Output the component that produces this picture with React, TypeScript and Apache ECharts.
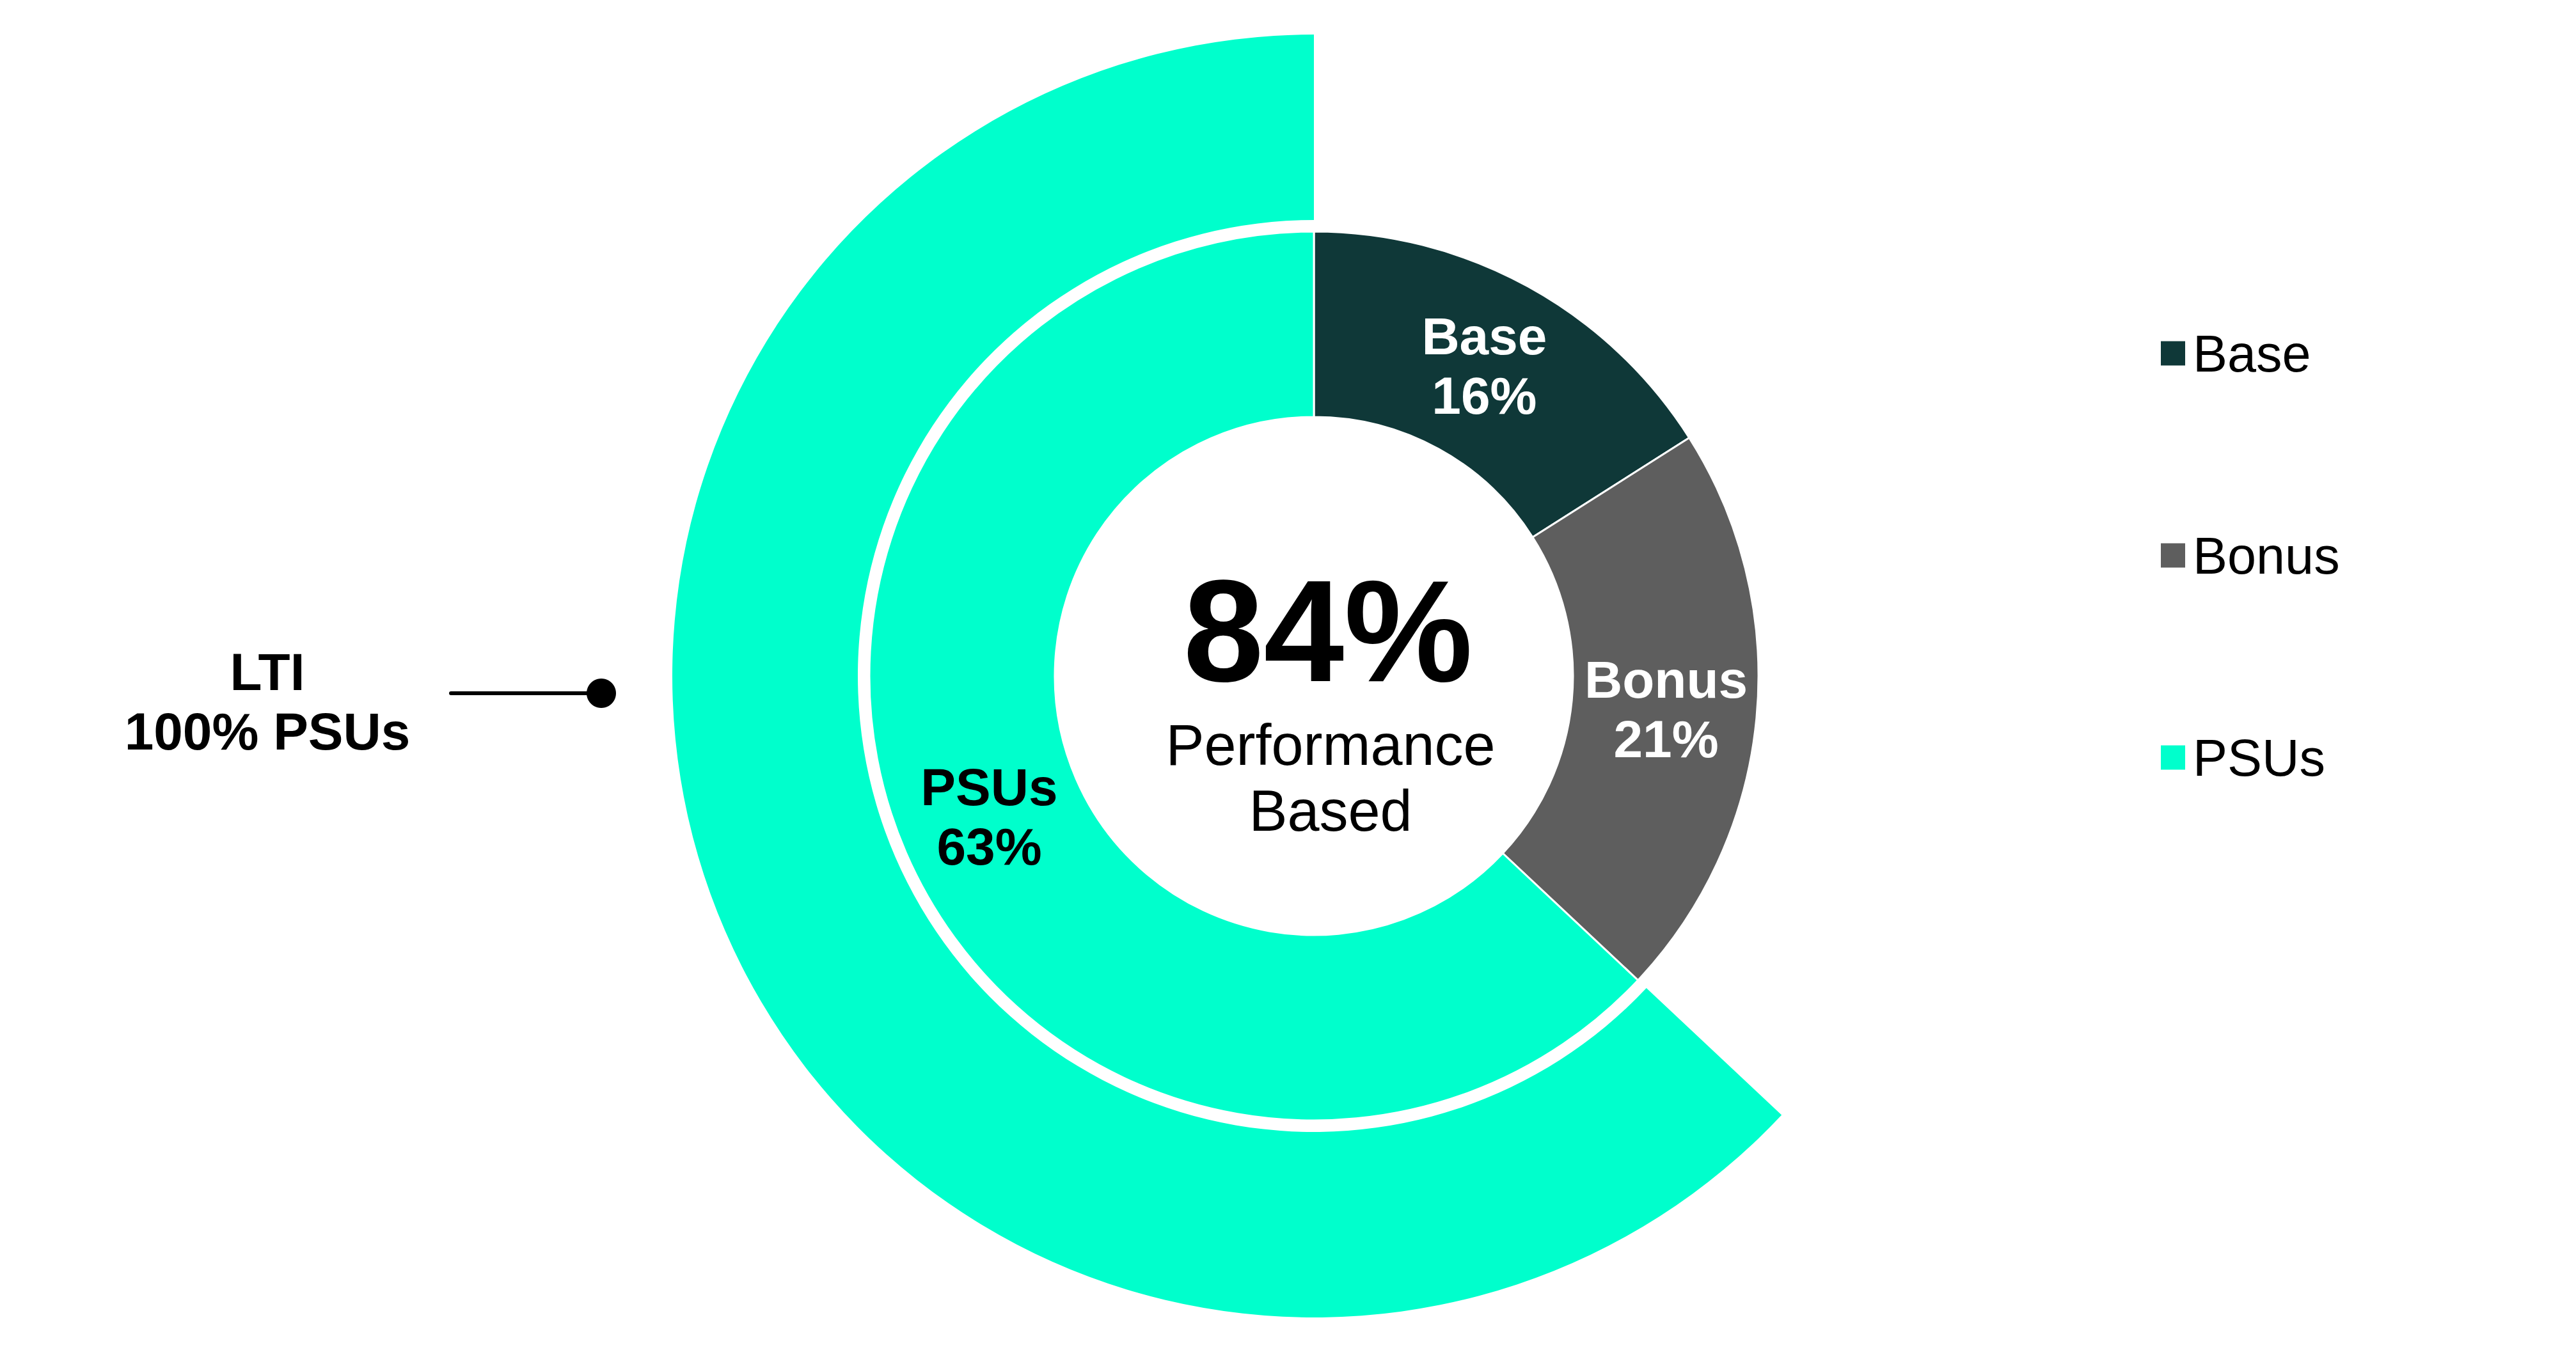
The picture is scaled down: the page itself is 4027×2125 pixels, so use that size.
import { useEffect, useRef } from 'react';
import * as echarts from 'echarts';

const categories = ['Base', 'Bonus', 'PSUs'];
const payMix = [16, 21, 63];
const colors = ['#0F3838', '#5E5E5E', '#00FFCC'];
const labelColors = ['#ffffff', '#ffffff', '#000000'];
const ltiName = 'PSUs';
const ltiShare = 100;
const performanceBased = '84%';

const FONT = 'Liberation Sans, Arial, sans-serif';

export default function App() {
  const ref = useRef<HTMLDivElement>(null);

  useEffect(() => {
    if (!ref.current) return;
    const chart = echarts.init(ref.current, undefined, { renderer: 'svg' });
    const center = [2054, 1057];
    // outer ring only covers the PSUs arc of the inner ring
    const psuShare = payMix[2];
    chart.setOption({
      animation: false,
      backgroundColor: '#ffffff',
      legend: {
        orient: 'vertical',
        left: 3376,
        top: 512,
        padding: 0,
        icon: 'rect',
        itemWidth: 40,
        itemHeight: 40,
        itemGap: 235,
        selectedMode: false,
        data: categories,
        textStyle: { fontSize: 81, fontFamily: FONT, color: '#000', padding: [0, 0, 0, 6] },
      },
      series: [
        {
          type: 'pie',
          center,
          radius: [405, 695],
          startAngle: 90,
          clockwise: true,
          silent: true,
          itemStyle: { borderColor: '#ffffff', borderWidth: 3 },
          label: {
            show: true,
            position: 'inside',
            formatter: '{b}\n{c}%',
            fontSize: 82,
            fontWeight: 'bold',
            fontFamily: FONT,
            lineHeight: 93,
          },
          labelLine: { show: false },
          data: categories.map((name, i) => ({
            name,
            value: payMix[i],
            itemStyle: { color: colors[i] },
            label: { color: labelColors[i] },
          })),
        },
        {
          type: 'pie',
          center,
          radius: [713, 1003],
          startAngle: 90,
          clockwise: true,
          silent: true,
          label: { show: false },
          labelLine: { show: false },
          data: [
            { name: '', value: 100 - psuShare, itemStyle: { color: 'rgba(0,0,0,0)' } },
            { name: ltiName, value: psuShare, itemStyle: { color: colors[2] } },
          ],
        },
      ],
      graphic: [
        {
          type: 'text',
          x: 2076,
          y: 986,
          style: {
            text: performanceBased,
            font: `bold 226px ${FONT}`,
            fill: '#000',
            textAlign: 'center',
            textVerticalAlign: 'middle',
          },
        },
        {
          type: 'text',
          x: 2080,
          y: 1216,
          style: {
            text: 'Performance\nBased',
            font: `90px ${FONT}`,
            lineHeight: 103,
            fill: '#000',
            textAlign: 'center',
            textVerticalAlign: 'middle',
          },
        },
        {
          type: 'text',
          x: 418,
          y: 1097,
          style: {
            text: `LTI\n${ltiShare}% ${ltiName}`,
            font: `bold 82px ${FONT}`,
            lineHeight: 93,
            fill: '#000',
            textAlign: 'center',
            textVerticalAlign: 'middle',
          },
        },
        {
          type: 'line',
          shape: { x1: 705, y1: 1084, x2: 940, y2: 1084 },
          style: { stroke: '#000', lineWidth: 6, lineCap: 'round' },
        },
        {
          type: 'circle',
          shape: { cx: 940, cy: 1084, r: 23 },
          style: { fill: '#000' },
        },
      ],
    });
    return () => chart.dispose();
  }, []);

  return <div ref={ref} style={{ position: 'absolute', left: 0, top: 0, width: 4027, height: 2125 }} />;
}
